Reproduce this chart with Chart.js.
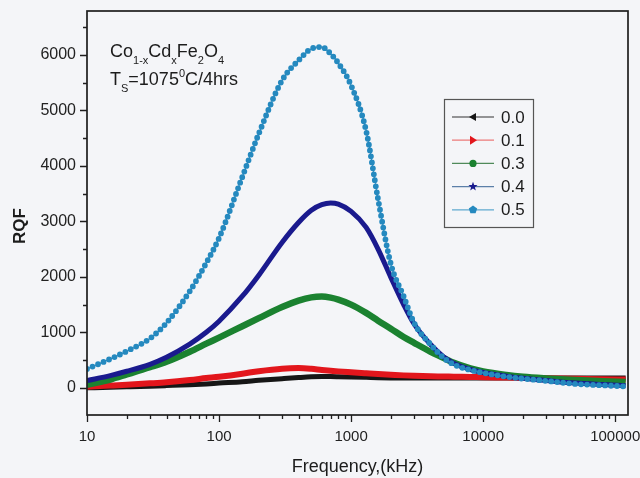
<!DOCTYPE html>
<html>
<head>
<meta charset="utf-8">
<title>RQF vs frequency</title>
<script src="https://cdn.jsdelivr.net/npm/chart.js@4.4.1/dist/chart.umd.min.js"></script>
<style>
  html, body { margin: 0; padding: 0; background: #f4f5f8; }
  #wrap { width: 640px; height: 478px; }
</style>
</head>
<body>
<div id="wrap"><canvas id="rqf"></canvas></div>
<script>
// frequency in kHz
const freq = [10, 15, 20, 30, 40, 60, 80, 100, 150, 200, 300, 400, 500, 600, 700, 800, 1000, 1300, 1600, 2000, 2500, 3000, 4000, 5000, 6000, 8000, 10000, 15000, 20000, 30000, 50000, 80000, 120000];

// RQF for each Cd content x
const rqf00 = [0, 10, 18, 30, 40, 55, 70, 85, 110, 135, 165, 185, 198, 202, 202, 200, 195, 188, 182, 178, 176, 175, 175, 175, 175, 175, 175, 176, 176, 177, 177, 178, 178];
const rqf01 = [20, 40, 55, 80, 100, 140, 175, 200, 255, 300, 345, 355, 342, 322, 308, 296, 280, 262, 248, 236, 224, 216, 208, 204, 200, 195, 190, 184, 179, 172, 163, 156, 148];
const rqf03 = [55, 150, 240, 370, 470, 650, 795, 905, 1110, 1255, 1455, 1570, 1630, 1645, 1625, 1590, 1500, 1350, 1210, 1065, 915, 810, 650, 540, 450, 350, 295, 232, 200, 170, 140, 120, 105];
const rqf04 = [130, 220, 298, 424, 550, 787, 1000, 1200, 1650, 2030, 2620, 2980, 3200, 3300, 3330, 3310, 3180, 2890, 2500, 1990, 1500, 1150, 780, 560, 440, 330, 275, 210, 172, 132, 85, 58, 38];
const rqf05 = [340, 520, 660, 890, 1170, 1740, 2250, 2700, 3800, 4580, 5540, 5900, 6110, 6140, 6020, 5850, 5450, 4630, 3400, 2230, 1650, 1170, 780, 545, 420, 320, 270, 200, 165, 125, 70, 45, 25];

const seriesNames = ['0.0', '0.1', '0.3', '0.4', '0.5'];
const xTicks = [10, 100, 1000, 10000, 100000];
const yTicks = [0, 1000, 2000, 3000, 4000, 5000, 6000];

const font = 'Liberation Sans, Arial, Helvetica, sans-serif';
const colors = ['#161616', '#e2161c', '#1b8230', '#1a1a8e', '#2589bf'];
const legendLines = ['#333333', '#ec7a7a', '#4f8a5a', '#5b7fa8', '#5fa9cf'];

function pts(vals) {
  return freq.map((f, i) => ({ x: f, y: vals[i] }));
}

function lineSet(label, vals, color, width, order) {
  return {
    label: label,
    data: pts(vals),
    borderColor: color,
    borderWidth: width,
    cubicInterpolationMode: 'monotone',
    pointRadius: 0,
    fill: false,
    order: order
  };
}

// x = 0.5 is drawn as beads on a thin line
const beads = lineSet('0.5', rqf05, colors[4], 5.8, 0);
beads.borderDash = [0, 6];
beads.borderCapStyle = 'round';

const datasets = [
  beads,
  lineSet('0.5 line', rqf05, colors[4], 1, 1),
  lineSet('0.4', rqf04, colors[3], 5, 2),
  lineSet('0.3', rqf03, colors[2], 6.5, 3),
  lineSet('0.1', rqf01, colors[1], 6, 4),
  lineSet('0.0', rqf00, colors[0], 5, 5)
];

function richText(ctx, parts, x, y) {
  parts.forEach(p => {
    const txt = p[0], kind = p[1];
    let dy = 0;
    if (kind === 'n') ctx.font = '18px ' + font;
    else ctx.font = '11px ' + font;
    if (kind === 'sub') dy = 7;
    if (kind === 'sup') dy = -8;
    ctx.fillText(txt, x, y + dy);
    x += ctx.measureText(txt).width;
  });
}

function marker(ctx, i, x, y) {
  ctx.fillStyle = colors[i];
  ctx.beginPath();
  if (i === 0) {
    ctx.moveTo(x - 4, y); ctx.lineTo(x + 3, y - 4); ctx.lineTo(x + 3, y + 4);
  } else if (i === 1) {
    ctx.moveTo(x + 4, y); ctx.lineTo(x - 3, y - 4.5); ctx.lineTo(x - 3, y + 4.5);
  } else if (i === 2) {
    ctx.arc(x, y, 3.6, 0, Math.PI * 2);
  } else {
    // star for 0.4, pentagon for 0.5
    const n = i === 3 ? 10 : 5;
    for (let k = 0; k < n; k++) {
      const ang = -Math.PI / 2 + k * 2 * Math.PI / n;
      const r = i === 3 ? (k % 2 ? 2 : 4.8) : 4.4;
      const px = x + r * Math.cos(ang), py = y + r * Math.sin(ang);
      if (k === 0) ctx.moveTo(px, py); else ctx.lineTo(px, py);
    }
  }
  ctx.closePath();
  ctx.fill();
}

const decorations = {
  id: 'decorations',
  afterDatasetsDraw(chart) {
    const { ctx, chartArea: a, scales: { x, y } } = chart;
    ctx.save();
    ctx.strokeStyle = '#1e1e1e';

    // axis ticks, outward
    ctx.lineWidth = 1.3;
    ctx.beginPath();
    for (let v = 0; v <= 6500; v += 500) {
      const py = Math.round(y.getPixelForValue(v)) + 0.5;
      const len = v % 1000 === 0 ? 7 : 4;
      ctx.moveTo(a.left, py); ctx.lineTo(a.left - len, py);
    }
    xTicks.forEach(d => {
      for (let m = 1; m <= 9; m++) {
        const v = d * m;
        if (v > x.max) break;
        const px = Math.round(x.getPixelForValue(v)) + 0.5;
        const len = m === 1 ? 7 : 4;
        ctx.moveTo(px, a.bottom); ctx.lineTo(px, a.bottom + len);
      }
    });
    ctx.stroke();

    // frame
    ctx.lineWidth = 1.7;
    ctx.strokeRect(a.left, a.top, a.right - a.left, a.bottom - a.top);

    // axis titles
    ctx.fillStyle = '#1c1c1c';
    ctx.textAlign = 'center';
    ctx.textBaseline = 'middle';
    ctx.font = '18px ' + font;
    ctx.fillText('Frequency,(kHz)', (a.left + a.right) / 2, 467);
    ctx.save();
    ctx.translate(20, 226);
    ctx.rotate(-Math.PI / 2);
    ctx.font = 'bold 17px ' + font;
    ctx.fillText('RQF', 0, 0);
    ctx.restore();

    // composition and sintering note
    ctx.textAlign = 'left';
    ctx.textBaseline = 'alphabetic';
    richText(ctx, [['Co', 'n'], ['1-x', 'sub'], ['Cd', 'n'], ['x', 'sub'], ['Fe', 'n'], ['2', 'sub'], ['O', 'n'], ['4', 'sub']], 110, 57);
    richText(ctx, [['T', 'n'], ['S', 'sub'], ['=1075', 'n'], ['0', 'sup'], ['C/4hrs', 'n']], 110, 85);

    // legend box
    ctx.lineWidth = 1.2;
    ctx.strokeStyle = '#555555';
    ctx.strokeRect(444.5, 99.5, 89, 128);
    ctx.font = '17px ' + font;
    ctx.textBaseline = 'middle';
    seriesNames.forEach((name, i) => {
      const ly = 117 + i * 23.2;
      ctx.strokeStyle = legendLines[i];
      ctx.lineWidth = 1.2;
      ctx.beginPath();
      ctx.moveTo(452, ly); ctx.lineTo(494, ly);
      ctx.stroke();
      marker(ctx, i, 473, ly);
      ctx.fillStyle = '#1c1c1c';
      ctx.fillText(name, 501, ly + 1);
    });
    ctx.restore();
  }
};

new Chart(document.getElementById('rqf'), {
  type: 'line',
  data: { datasets: datasets },
  options: {
    responsive: true,
    maintainAspectRatio: false,
    animation: false,
    layout: { padding: { top: 11, right: 12, left: 0, bottom: 0 } },
    plugins: { legend: { display: false }, tooltip: { enabled: false } },
    scales: {
      x: {
        type: 'logarithmic',
        min: 10,
        max: 125000,
        afterBuildTicks: s => { s.ticks = xTicks.map(v => ({ value: v })); },
        afterFit: s => { s.height = 63; s.paddingLeft = 0; s.paddingRight = 0; },
        grid: { display: false, drawTicks: false },
        border: { display: false },
        ticks: {
          autoSkip: false, maxRotation: 0, padding: 13, color: '#222',
          font: { size: 15, family: font },
          callback: v => String(v)
        }
      },
      y: {
        type: 'linear',
        min: -490,
        max: 6790,
        afterBuildTicks: s => { s.ticks = yTicks.map(v => ({ value: v })); },
        afterFit: s => { s.width = 87; s.paddingTop = 0; s.paddingBottom = 0; },
        grid: { display: false, drawTicks: false },
        border: { display: false },
        ticks: {
          padding: 11, color: '#222',
          font: { size: 16, family: font },
          callback: v => String(v)
        }
      }
    }
  },
  plugins: [decorations]
});
</script>
</body>
</html>
